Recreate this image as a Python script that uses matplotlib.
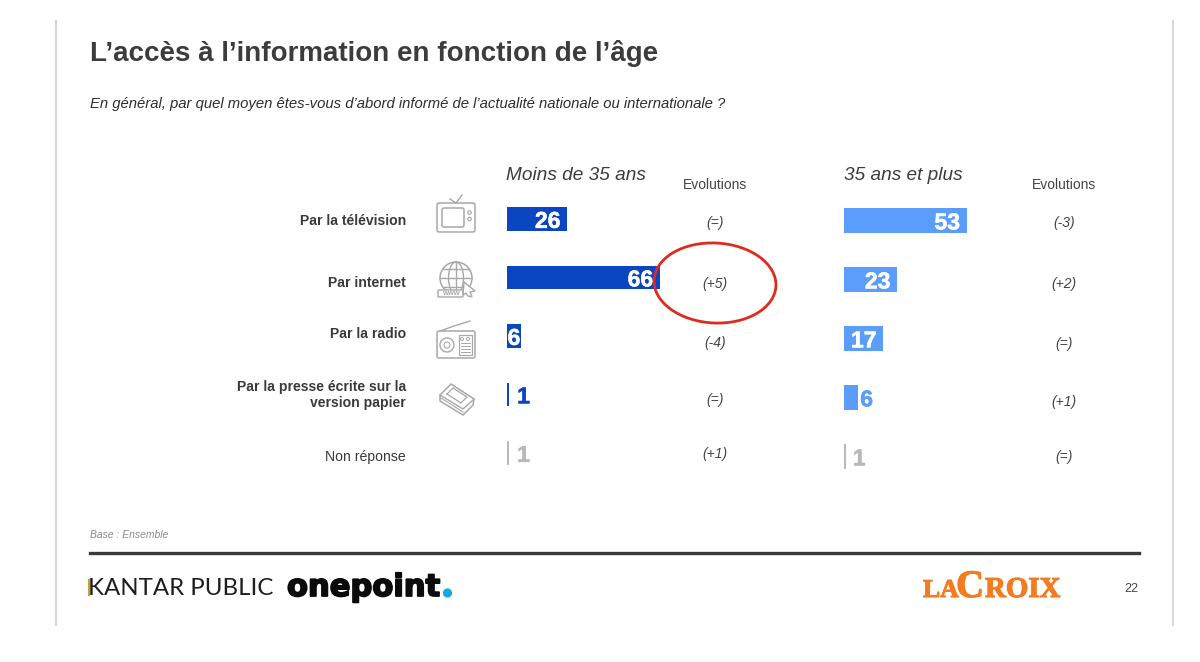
import matplotlib
matplotlib.use("Agg")
import matplotlib.pyplot as plt
import matplotlib.patheffects as pe
from matplotlib.patches import Ellipse, Rectangle, FancyBboxPatch, Circle, Polygon

plt.rcParams['font.family'] = ['Liberation Sans', 'DejaVu Sans']

categories = ["Par la télévision", "Par internet", "Par la radio",
              "Par la presse écrite sur la\nversion papier", "Non réponse"]
under35 = [26, 66, 6, 1, 1]
over35 = [53, 23, 17, 6, 1]
evol_under35 = ["(=)", "(+5)", "(-4)", "(=)", "(+1)"]
evol_over35 = ["(-3)", "(+2)", "(=)", "(+1)", "(=)"]
panel_titles = ["Moins de 35 ans", "35 ans et plus"]
evol_title = "Evolutions"
title = "L’accès à l’information en fonction de l’âge"
subtitle = "En général, par quel moyen êtes-vous d’abord informé de l’actualité nationale ou internationale ?"
base_note = "Base : Ensemble"
page_no = "22"

W, H = 1200, 662
fig = plt.figure(figsize=(W / 100, H / 100), dpi=100, facecolor="white")

bg = fig.add_axes([0, 0, 1, 1], zorder=0)
bg.set_xlim(0, W); bg.set_ylim(H, 0); bg.axis("off")
top = fig.add_axes([0, 0, 1, 1], zorder=5)
top.set_xlim(0, W); top.set_ylim(H, 0); top.axis("off"); top.patch.set_alpha(0)


def panel(x0, yc0, step):
    span = 232
    h = 5 * step
    y_top = yc0 - step / 2
    ax = fig.add_axes([x0 / W, 1 - (y_top + h) / H, span / W, h / H], zorder=2)
    ax.set_xlim(0, 100); ax.set_ylim(4.5, -0.5); ax.axis("off"); ax.patch.set_alpha(0)
    return ax


def draw_bars(ax, values, color, small_inside, small_gap):
    cols = [color] * 4 + ["#b8b8b8"]
    ax.barh(range(len(values)), values, height=0.41, color=cols, linewidth=0)
    for i, v in enumerate(values):
        if v > 6:
            kw = dict(x=v - 3, ha="right", color="white")
        elif v == 6 and small_inside:
            kw = dict(x=v / 2, ha="center", color="white")
        elif v == 6:
            kw = dict(x=v + 1.0, ha="left", color=cols[i])
        else:
            kw = dict(x=v + small_gap, ha="left", color=cols[i])
        ax.text(kw.pop("x"), i + 0.04, str(v), va="center", fontsize=16.5, fontweight="bold",
                path_effects=[pe.withStroke(linewidth=0.4, foreground=kw["color"])], **kw)


ax_l = panel(507, 219, 58.5)
ax_r = panel(844, 220.5, 59)
draw_bars(ax_l, under35, "#0a46c2", True, 3.4)
draw_bars(ax_r, over35, "#5b9dfb", False, 2.8)

# frame lines
bg.plot([55.5, 55.5], [20, 626], color="#d4d4d4", lw=1.5, solid_capstyle="butt")
bg.plot([1173, 1173], [20, 626], color="#d9d9d9", lw=1.5, solid_capstyle="butt")
bg.plot([90, 1139], [553, 553], color="#3a3a3a", lw=2.4)

# headings
bg.text(90, 53.5, title, fontsize=19.95, fontweight="bold", color="#3c3c3c", va="center")
bg.text(90, 104, subtitle, fontsize=10.75, style="italic", color="#2e2e2e", va="center")
bg.text(506, 176, panel_titles[0], fontsize=13.7, style="italic", color="#3c3c3c", va="center")
bg.text(844, 176, panel_titles[1], fontsize=13.7, style="italic", color="#3c3c3c", va="center")
bg.text(715, 185, evol_title, fontsize=10, color="#444444", va="center", ha="center")
bg.text(1064, 185, evol_title, fontsize=10, color="#444444", va="center", ha="center")

# category labels
label_y = [221, 283, 334, 395, 457]
for i, (c, y) in enumerate(zip(categories, label_y)):
    bg.text(406, y, c, ha="right", va="center", fontsize=10.05, color="#3a3a3a",
            fontweight="normal" if i == 4 else "bold", linespacing=1.2)

# evolutions
for s, y in zip(evol_under35, [223, 284, 343, 400, 454]):
    bg.text(715, y, s, ha="center", va="center", fontsize=10, style="italic", color="#444444")
for s, y in zip(evol_over35, [223, 284, 344, 402, 457]):
    bg.text(1064, y, s, ha="center", va="center", fontsize=10, style="italic", color="#444444")

# icons
ic = "#a8a8a8"
# TV
bg.add_patch(FancyBboxPatch((437, 203), 38, 29, boxstyle="round,pad=0,rounding_size=2", fc="none", ec=ic, lw=1.1))
bg.add_patch(FancyBboxPatch((442, 208), 22, 19, boxstyle="round,pad=0,rounding_size=2", fc="none", ec=ic, lw=1.1))
bg.plot([450, 456, 462], [199, 203, 195], color=ic, lw=1)
bg.add_patch(Circle((469.5, 212.5), 1.8, fc="none", ec=ic, lw=0.8))
bg.add_patch(Circle((469.5, 219), 1.8, fc="none", ec=ic, lw=0.8))
# Globe
bg.add_patch(Circle((456, 278), 16, fc="none", ec=ic, lw=1.1))
bg.add_patch(Ellipse((456, 278), 15, 32, fc="none", ec=ic, lw=1))
bg.plot([456, 456], [262, 294], color=ic, lw=1)
bg.plot([440, 472], [278, 278], color=ic, lw=1)
bg.plot([443, 469], [269, 269], color=ic, lw=1)
bg.plot([443, 469], [287, 287], color=ic, lw=1)
bg.add_patch(FancyBboxPatch((438, 290), 25, 7, boxstyle="round,pad=0,rounding_size=1", fc="white", ec=ic, lw=1, zorder=3))
bg.text(450.5, 293.6, "www", fontsize=5.5, fontweight="bold", color=ic, ha="center", va="center", zorder=4)
bg.add_patch(Polygon([[464, 282], [475, 291], [470, 292], [472, 297], [468, 296], [466, 293], [463, 295]],
                     fc="white", ec=ic, lw=1, zorder=3))
# Radio
bg.add_patch(FancyBboxPatch((437, 331), 38, 27, boxstyle="round,pad=0,rounding_size=2", fc="none", ec=ic, lw=1.1))
bg.plot([440, 454, 470], [331, 326, 321], color=ic, lw=1)
bg.add_patch(Circle((447, 345), 7, fc="none", ec=ic, lw=1))
bg.add_patch(Circle((447, 345), 3, fc="none", ec=ic, lw=0.8))
bg.add_patch(Rectangle((459, 335), 13, 20, fc="none", ec=ic, lw=0.9))
for yy in (343, 346, 349, 352):
    bg.plot([461, 470], [yy, yy], color=ic, lw=0.7)
for xx in (462, 468):
    bg.add_patch(Circle((xx, 339), 1.5, fc="none", ec=ic, lw=0.7))
# Newspaper
bg.add_patch(Polygon([[440, 395], [451, 384], [474, 399], [473, 405], [463, 415], [440, 401]],
                     fc="none", ec=ic, lw=1.1))
bg.plot([440, 463, 474], [395, 409, 399], color=ic, lw=1)
bg.plot([447, 453, 467, 461, 447], [394, 388, 397, 403, 394], color=ic, lw=0.9)
bg.plot([441, 463], [398, 412], color=ic, lw=0.8)

# red annotation ellipse
top.add_patch(Ellipse((715, 283), 122, 80, angle=3, fc="none", ec="#df2a1e", lw=2.0))

# footer
bg.text(90, 535.5, base_note, fontsize=7.5, style="italic", color="#8a8a8a", va="center")
bg.text(88, 595, "KANTAR PUBLIC", fontsize=17.3, color="#1e1e1e", va="baseline",
        family=["Lato", "DejaVu Sans"])
bg.plot([88.5, 88.5], [579, 596], color="#c9a227", lw=1.5, solid_capstyle="butt")
bg.text(287, 596, "onepoint", fontsize=22, fontweight="bold", color="#0b0b0b", va="baseline",
        family=["DejaVu Sans"],
        path_effects=[pe.withStroke(linewidth=1.3, foreground="#0b0b0b")])
bg.add_patch(Circle((447.5, 593), 4.6, fc="#14a9e0", ec="none"))
orange = "#f47b20"
stroke = [pe.withStroke(linewidth=0.8, foreground=orange)]
bg.text(923, 597, "LA", fontsize=18.5, fontweight="bold", color=orange, va="baseline",
        family=["Liberation Serif"], path_effects=stroke)
bg.text(956, 597, "C", fontsize=28, fontweight="bold", color=orange, va="baseline",
        family=["Liberation Serif"], path_effects=stroke)
bg.text(985, 597, "ROIX", fontsize=20.8, fontweight="bold", color=orange, va="baseline",
        family=["Liberation Serif"], path_effects=stroke)
bg.text(1131, 588.5, page_no, fontsize=9, color="#444444", va="center", ha="center")

fig.savefig("out.png", dpi=100, facecolor="white")
